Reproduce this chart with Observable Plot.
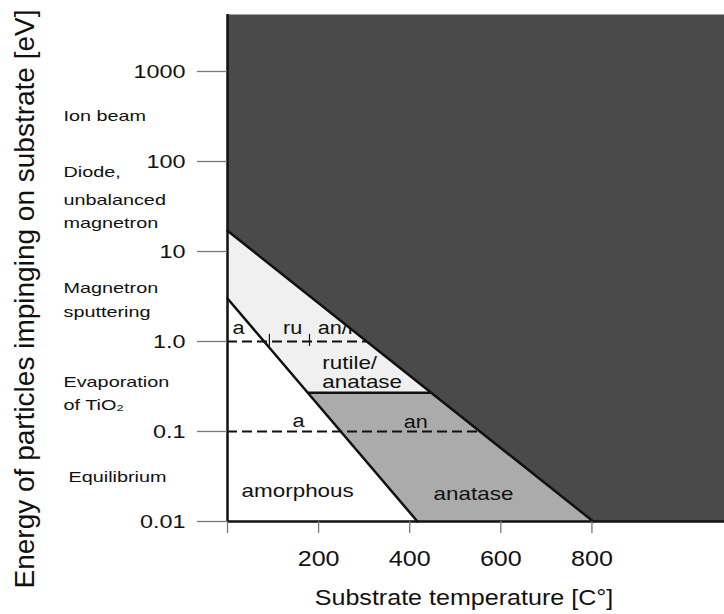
<!DOCTYPE html>
<html><head><meta charset="utf-8">
<script src="https://cdn.jsdelivr.net/npm/d3@7"></script>
<script src="https://cdn.jsdelivr.net/npm/@observablehq/plot@0.6"></script>
<style>body{margin:0;background:#fff} svg{display:block}</style>
</head><body><div id="chart"></div>
<script>
// ---- data ----
const yTicks = [0.01, 0.1, 1, 10, 100, 1000];
const yTickLabels = ["0.01", "0.1", "1.0", "10", "100", "1000"];
const xTicks = [0, 200, 400, 600, 800];
const xTickLabels = ["", "200", "400", "600", "800"];
const xDomain = [0, 1091];
const yDomain = [0.01, 4300];
// phase boundaries (straight in log-energy vs temperature)
const darkEdgeX = [0, 803], darkEdgeY = [17, 0.01];
const amorphEdgeX = [0, 417], amorphEdgeY = [3.0, 0.01];
const rutileFloorY = 0.27;
const dashedY = [1.0, 0.1];
const dashTickX = [92, 180];
// deposition-method labels in the left margin
const methodLines = ["Ion beam", "Diode,", "unbalanced", "magnetron", "Magnetron", "sputtering", "Evaporation", "of TiO₂", "Equilibrium"];
const methodY = [316, 75.5, 36.9, 20.5, 3.88, 2.1, 0.35, 0.195, 0.031];
// phase labels inside the diagram
const phaseText = ["a", "ru", "rutile/", "anatase", "a", "an", "amorphous", "anatase"];
const phaseX = [24, 143, 208, 208, 156, 413, 154, 540];
const phaseY = [1.4, 1.4, 0.585, 0.36, 0.13, 0.126, 0.022, 0.0205];
const phaseSize = [18, 18, 19, 19, 18, 18, 19, 19];
const phaseAnchor = ["middle", "middle", "start", "start", "middle", "middle", "middle", "middle"];
const hiddenText = "an/ru", hiddenX = 198, hiddenY = 1.4;

// ---- geometry helpers ----
function xAt(ex, ey, y) { // x where the log-linear edge reaches energy y
  const l0 = Math.log10(ey[0]), l1 = Math.log10(ey[1]);
  return ex[0] + (Math.log10(y) - l0) / (l1 - l0) * (ex[1] - ex[0]);
}
const yTop = yDomain[1], xRight = xDomain[1];
const xDarkFloor = xAt(darkEdgeX, darkEdgeY, rutileFloorY);
const xAmFloor = xAt(amorphEdgeX, amorphEdgeY, rutileFloorY);
const polys = [];
function poly(name, pts) { pts.forEach(([x, y]) => polys.push({name, x, y})); }
poly("dark", [[darkEdgeX[0], darkEdgeY[0]], [darkEdgeX[1], darkEdgeY[1]], [xRight, yDomain[0]], [xRight, yTop], [0, yTop]]);
poly("light", [[darkEdgeX[0], darkEdgeY[0]], [xDarkFloor, rutileFloorY], [xAmFloor, rutileFloorY], [amorphEdgeX[0], amorphEdgeY[0]]]);
poly("medium", [[xAmFloor, rutileFloorY], [xDarkFloor, rutileFloorY], [darkEdgeX[1], darkEdgeY[1]], [amorphEdgeX[1], amorphEdgeY[1]]]);
const fills = {dark: "#4a4a4a", light: "#f0f0f0", medium: "#ababab"};

const edges = [
  ...darkEdgeX.map((x, i) => ({e: "dark", x, y: darkEdgeY[i]})),
  ...amorphEdgeX.map((x, i) => ({e: "am", x, y: amorphEdgeY[i]}))
];
const dashes = dashedY.map(y => ({y, x2: xAt(darkEdgeX, darkEdgeY, y)}));
const phases = phaseText.map((t, i) => ({t, x: phaseX[i], y: phaseY[i], s: phaseSize[i], a: phaseAnchor[i]}));
const methods = methodLines.map((t, i) => ({t, y: methodY[i], x: t === "Equilibrium" ? -349 : -360}));

const ink = "#111";
const chart = Plot.plot({
  width: 724, height: 614,
  marginLeft: 227, marginRight: 0, marginTop: 14, marginBottom: 93,
  style: {fontFamily: "'Liberation Sans', Arial, sans-serif", color: ink, background: "#fff", overflow: "visible"},
  x: {domain: xDomain},
  y: {type: "log", domain: yDomain},
  marks: [
    Plot.line(polys.filter(d => d.name === "light"), {x: "x", y: "y", fill: fills.light, stroke: "none"}),
    Plot.line(polys.filter(d => d.name === "medium"), {x: "x", y: "y", fill: fills.medium, stroke: "none"}),
    Plot.text([hiddenText], {x: hiddenX, y: hiddenY, text: d => d, textAnchor: "start", fontSize: 18, fill: ink}),
    Plot.line(polys.filter(d => d.name === "dark"), {x: "x", y: "y", fill: fills.dark, stroke: "none"}),
    Plot.line(edges, {x: "x", y: "y", z: "e", stroke: "#111", strokeWidth: 2.5}),
    Plot.ruleY([rutileFloorY], {x1: xAmFloor, x2: xDarkFloor, stroke: "#111", strokeWidth: 2.5}),
    Plot.ruleY(dashes, {y: "y", x1: 0, x2: "x2", stroke: "#111", strokeWidth: 2, strokeDasharray: "10,5"}),
    Plot.ruleX(dashTickX, {x: d => d, y1: 1.2, y2: 0.88, stroke: "#111", strokeWidth: 1.2}),
    Plot.ruleX([0], {stroke: "#111", strokeWidth: 2.5}),
    Plot.ruleY([yDomain[0]], {stroke: "#111", strokeWidth: 2.5}),
    Plot.text(phases.filter(d => d.s === 18), {x: "x", y: "y", text: "t", textAnchor: "middle", fontSize: 18, fill: ink}),
    Plot.text(phases.filter(d => d.s === 19 && d.a === "start"), {x: "x", y: "y", text: "t", textAnchor: "start", fontSize: 19, fill: ink}),
    Plot.text(phases.filter(d => d.s === 19 && d.a === "middle"), {x: "x", y: "y", text: "t", textAnchor: "middle", fontSize: 19, fill: ink}),
    Plot.text(methods, {x: "x", y: "y", text: "t", textAnchor: "start", fontSize: 15, fill: ink}),
    Plot.axisY(yTicks, {anchor: "left", tickSize: 30, tickPadding: 12, fontSize: 19, stroke: "#777", strokeWidth: 1.3,
      tickFormat: d => yTickLabels[yTicks.indexOf(d)], label: null}),
    Plot.axisX(xTicks, {anchor: "bottom", tickSize: 12, tickPadding: 17, fontSize: 22, stroke: "#777", strokeWidth: 1.3,
      tickFormat: d => xTickLabels[xTicks.indexOf(d)], label: null}),
    Plot.text(["Energy of particles impinging on substrate [eV]"], {frameAnchor: "left", dx: -202, dy: 31, rotate: -90, textAnchor: "middle", lineAnchor: "middle", fontSize: 28, fill: ink}),
    Plot.text(["Substrate temperature [C°]"], {frameAnchor: "bottom", dx: -12, dy: 83, fontSize: 22, fill: ink})
  ]
});
document.getElementById("chart").append(chart);
// horizontal stretch of the lettering, as in the scanned original (not for the rotated label)
const axisF = {"y-axis tick label": 1.23, "x-axis tick label": 1.14};
const sizeF = {15: 1.32, 18: 1.2, 19: 1.18, 22: 1.14};
chart.querySelectorAll("g[aria-label]").forEach(g => {
  const lab = g.getAttribute("aria-label");
  let f = axisF[lab];
  if (lab === "text") f = sizeF[+g.getAttribute("font-size")];
  if (!f) return;
  g.querySelectorAll("text").forEach(t => {
    const L = t.getComputedTextLength();
    if (L > 0) { t.setAttribute("textLength", L * f); t.setAttribute("lengthAdjust", "spacingAndGlyphs"); }
  });
});
</script></body></html>
